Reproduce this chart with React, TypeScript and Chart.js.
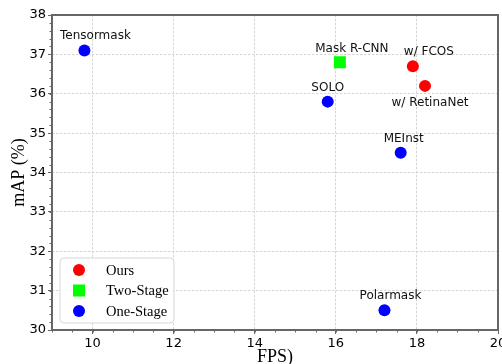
import React, { useEffect, useRef } from "react";
import { Chart, registerables } from "chart.js";

Chart.register(...registerables);

// ---- data ----
const oursNames = ["w/ FCOS", "w/ RetinaNet"];
const oursFps = [17.9, 18.2];
const oursMap = [36.7, 36.2];

const twoStageNames = ["Mask R-CNN"];
const twoStageFps = [16.1];
const twoStageMap = [36.8];

const oneStageNames = ["Tensormask", "SOLO", "MEInst", "Polarmask"];
const oneStageFps = [9.8, 15.8, 17.6, 17.2];
const oneStageMap = [37.1, 35.8, 34.5, 30.5];

const seriesLabels = ["Ours", "Two-Stage", "One-Stage"];

const xTicks = [10, 12, 14, 16, 18, 20];
const yTicks = [30, 31, 32, 33, 34, 35, 36, 37, 38];

// ---- styling (label offsets in px) ----
const oursLabelOffsets = [
  [16, -11],
  [5, 20],
];
const twoStageLabelOffsets = [[12, -10]];
const oneStageLabelOffsets = [
  [11, -11],
  [0, -11],
  [3, -11],
  [6, -11],
];

const SANS = "'DejaVu Sans', sans-serif";
const SERIF = "'Liberation Serif', 'Times New Roman', serif";
const FRAME = "#666666";
const GRID = "#d6d6d6";

const mk = (xs: number[], ys: number[]) => xs.map((x, i) => ({ x, y: ys[i] }));

const decorPlugin = {
  id: "decor",
  afterDatasetsDraw(chart: any) {
    const { ctx, chartArea, scales } = chart;
    const { left, right, top, bottom } = chartArea;
    ctx.save();
    // minor ticks
    ctx.strokeStyle = FRAME;
    ctx.lineWidth = 1;
    ctx.beginPath();
    for (let v = 9; v <= 20.001; v += 0.5) {
      const px = Math.round(scales.x.getPixelForValue(v)) + 0.5;
      ctx.moveTo(px, bottom);
      ctx.lineTo(px, bottom + 2.5);
    }
    for (let v = 30; v <= 38.001; v += 0.2) {
      const py = Math.round(scales.y.getPixelForValue(v)) + 0.5;
      ctx.moveTo(left, py);
      ctx.lineTo(left - 2.5, py);
    }
    ctx.stroke();
    // frame
    ctx.strokeStyle = FRAME;
    ctx.lineWidth = 2;
    ctx.strokeRect(left, top, right - left, bottom - top);

    // point labels
    const offsetSets = [oursLabelOffsets, twoStageLabelOffsets, oneStageLabelOffsets];
    const nameSets = [oursNames, twoStageNames, oneStageNames];
    ctx.fillStyle = "#111";
    ctx.font = `12px ${SANS}`;
    ctx.textAlign = "center";
    ctx.textBaseline = "alphabetic";
    chart.data.datasets.forEach((ds: any, di: number) => {
      const meta = chart.getDatasetMeta(di);
      meta.data.forEach((pt: any, i: number) => {
        const [dx, dy] = offsetSets[di][i];
        ctx.fillText(nameSets[di][i], pt.x + dx, pt.y + dy);
      });
    });

    // legend
    const bx = left + 8;
    const bw = 114;
    const bh = 65;
    const by = bottom - 7 - bh;
    ctx.beginPath();
    const r = 4;
    ctx.moveTo(bx + r, by);
    ctx.arcTo(bx + bw, by, bx + bw, by + bh, r);
    ctx.arcTo(bx + bw, by + bh, bx, by + bh, r);
    ctx.arcTo(bx, by + bh, bx, by, r);
    ctx.arcTo(bx, by, bx + bw, by, r);
    ctx.closePath();
    ctx.fillStyle = "rgba(255,255,255,0.85)";
    ctx.fill();
    ctx.strokeStyle = "#d6d6d6";
    ctx.lineWidth = 1;
    ctx.stroke();
    ctx.font = `14.5px ${SERIF}`;
    ctx.textAlign = "left";
    ctx.textBaseline = "middle";
    chart.data.datasets.forEach((ds: any, di: number) => {
      const cy = by + 12 + di * 20.5;
      const cx = bx + 19;
      ctx.fillStyle = ds.backgroundColor;
      ctx.beginPath();
      if (ds.pointStyle === "rect") {
        ctx.rect(cx - 6, cy - 6, 12, 12);
      } else {
        ctx.arc(cx, cy, 6, 0, Math.PI * 2);
      }
      ctx.fill();
      ctx.fillStyle = "#000";
      ctx.fillText(ds.label, bx + 46, cy + 1);
    });

    // axis titles
    ctx.fillStyle = "#000";
    ctx.font = `18px ${SERIF}`;
    ctx.textAlign = "center";
    ctx.textBaseline = "alphabetic";
    ctx.fillText("FPS)", (left + right) / 2, bottom + 32);
    ctx.save();
    ctx.translate(24, (top + bottom) / 2);
    ctx.rotate(-Math.PI / 2);
    ctx.fillText("mAP (%)", 0, 0);
    ctx.restore();
    ctx.restore();
  },
};

export default function App() {
  const ref = useRef<HTMLCanvasElement | null>(null);
  useEffect(() => {
    if (!ref.current) return;
    const chart = new Chart(ref.current, {
      type: "scatter",
      data: {
        datasets: [
          {
            label: seriesLabels[0],
            data: mk(oursFps, oursMap),
            backgroundColor: "#ff0000",
            borderColor: "#ff0000",
            pointStyle: "circle",
            pointRadius: 6,
            borderWidth: 0,
          },
          {
            label: seriesLabels[1],
            data: mk(twoStageFps, twoStageMap),
            backgroundColor: "#00ff00",
            borderColor: "#00ff00",
            pointStyle: "rect",
            pointRadius: 8.5,
            borderWidth: 0,
          },
          {
            label: seriesLabels[2],
            data: mk(oneStageFps, oneStageMap),
            backgroundColor: "#0000ff",
            borderColor: "#0000ff",
            pointStyle: "circle",
            pointRadius: 6,
            borderWidth: 0,
          },
        ],
      },
      plugins: [decorPlugin],
      options: {
        animation: false,
        responsive: false,
        devicePixelRatio: 1,
        layout: { autoPadding: false, padding: { top: 15, right: 4, left: 0, bottom: 0 } },
        plugins: {
          legend: { display: false },
          tooltip: { enabled: false },
          title: { display: false },
        },
        scales: {
          x: {
            type: "linear",
            min: 9,
            max: 20,
            afterBuildTicks: (s: any) => {
              s.ticks = xTicks.map((v) => ({ value: v }));
            },
            afterFit: (s: any) => {
              s.height = 34;
              s.paddingLeft = 0;
              s.paddingRight = 0;
            },
            grid: {
              color: GRID,
              lineWidth: 1,
              drawTicks: true,
              tickLength: 4,
              tickColor: FRAME,
            },
            border: { display: false, dash: [2.5, 1.5] },
            ticks: {
              color: "#000",
              font: { family: SANS, size: 13 },
              padding: 2,
              maxRotation: 0,
              autoSkip: false,
              callback: (v: any) => String(v),
            },
          },
          y: {
            type: "linear",
            min: 30,
            max: 38,
            afterBuildTicks: (s: any) => {
              s.ticks = yTicks.map((v) => ({ value: v }));
            },
            afterFit: (s: any) => {
              s.width = 52;
              s.paddingTop = 0;
              s.paddingBottom = 0;
            },
            grid: {
              color: GRID,
              lineWidth: 1,
              drawTicks: true,
              tickLength: 4,
              tickColor: FRAME,
            },
            border: { display: false, dash: [2.5, 1.5] },
            ticks: {
              color: "#000",
              font: { family: SANS, size: 13 },
              padding: 2,
              autoSkip: false,
              callback: (v: any) => String(v),
            },
          },
        },
      },
    } as any);
    return () => chart.destroy();
  }, []);
  return (
    <div style={{ position: "fixed", left: 0, top: 0, width: 502, height: 364, background: "#fff" }}>
      <canvas ref={ref} width={502} height={364} />
    </div>
  );
}
